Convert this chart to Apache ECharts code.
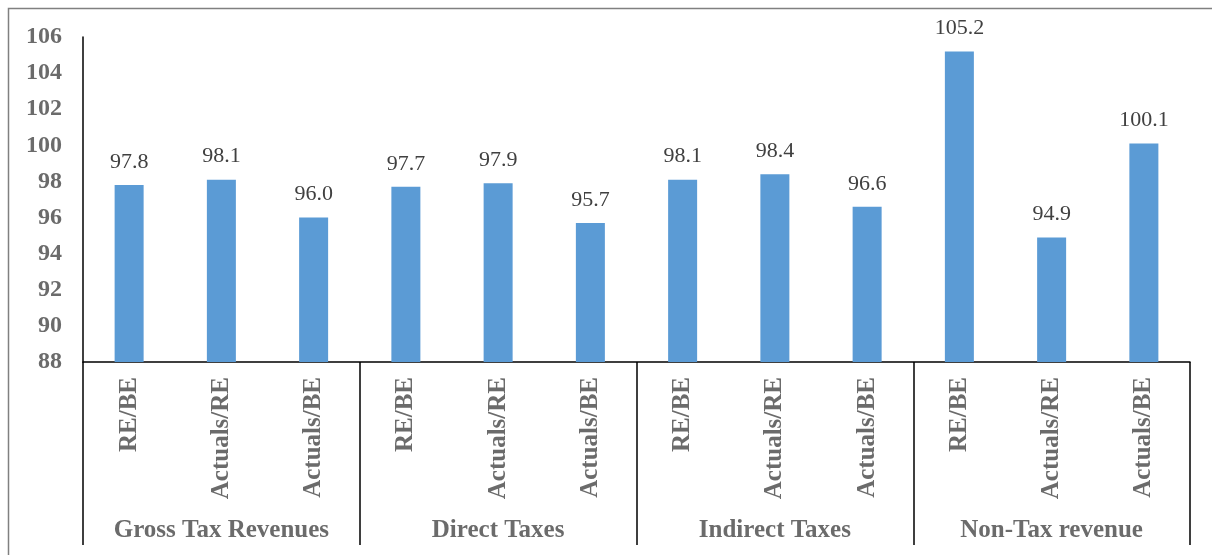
<!DOCTYPE html>
<html>
<head>
<meta charset="utf-8">
<script src="https://cdn.jsdelivr.net/npm/echarts@6/dist/echarts.min.js"></script>
<style>
  html, body { margin: 0; padding: 0; background: #fff; }
  #main { width: 1212px; height: 555px; }
</style>
</head>
<body>
<div id="main"></div>
<script>
// categories
const groups = ['Gross Tax Revenues', 'Direct Taxes', 'Indirect Taxes', 'Non-Tax revenue'];
const ratios = ['RE/BE', 'Actuals/RE', 'Actuals/BE'];
// per cent values
const grossTax = [97.8, 98.1, 96.0];
const directTax = [97.7, 97.9, 95.7];
const indirectTax = [98.1, 98.4, 96.6];
const nonTax = [105.2, 94.9, 100.1];

const labels = [];
groups.forEach(() => ratios.forEach(r => labels.push(r)));
const values = [].concat(grossTax, directTax, indirectTax, nonTax);

const font = '"Liberation Serif", "Times New Roman", serif';
const myChart = echarts.init(document.getElementById('main'));

const option = {
  animation: false,
  backgroundColor: '#fff',
  // outer frame, only top and left edges fall inside the picture
  graphic: [{
    type: 'rect',
    shape: { x: 8.5, y: 8.5, width: 1240, height: 570 },
    style: { fill: 'none', stroke: '#808080', lineWidth: 1.5 },
    silent: true
  }],
  grid: { left: 83, right: 22, top: 37, bottom: 193 },
  xAxis: [
    {
      type: 'category',
      data: labels,
      axisLine: { show: true, lineStyle: { color: '#000', width: 1.5 } },
      axisTick: { show: false },
      axisLabel: {
        interval: 0,
        rotate: 90,
        margin: 15,
        fontFamily: font,
        fontWeight: 'bold',
        fontSize: 25,
        color: '#6b6b6b'
      }
    },
    {
      type: 'category',
      data: groups,
      position: 'bottom',
      axisLine: { show: false },
      axisTick: { show: true, interval: 0, length: 183, lineStyle: { color: '#000', width: 1.5 } },
      axisLabel: {
        interval: 0,
        margin: 156,
        fontFamily: font,
        fontWeight: 'bold',
        fontSize: 25,
        color: '#6b6b6b'
      }
    }
  ],
  yAxis: {
    type: 'value',
    min: 88,
    max: 106,
    interval: 2,
    axisLine: { show: true, lineStyle: { color: '#000', width: 1.5 } },
    axisTick: { show: false },
    splitLine: { show: false },
    axisLabel: {
      margin: 21,
      fontFamily: font,
      fontWeight: 'bold',
      fontSize: 24,
      color: '#6b6b6b'
    }
  },
  series: [{
    type: 'bar',
    xAxisIndex: 0,
    data: values,
    barWidth: 29,
    itemStyle: { color: '#5b9bd5' },
    label: {
      show: true,
      position: 'top',
      distance: 12,
      formatter: p => p.value.toFixed(1),
      fontFamily: font,
      fontSize: 22,
      color: '#404040'
    }
  }]
};

myChart.setOption(option);
window.addEventListener('resize', function () {
  myChart.resize();
});
</script>
</body>
</html>
